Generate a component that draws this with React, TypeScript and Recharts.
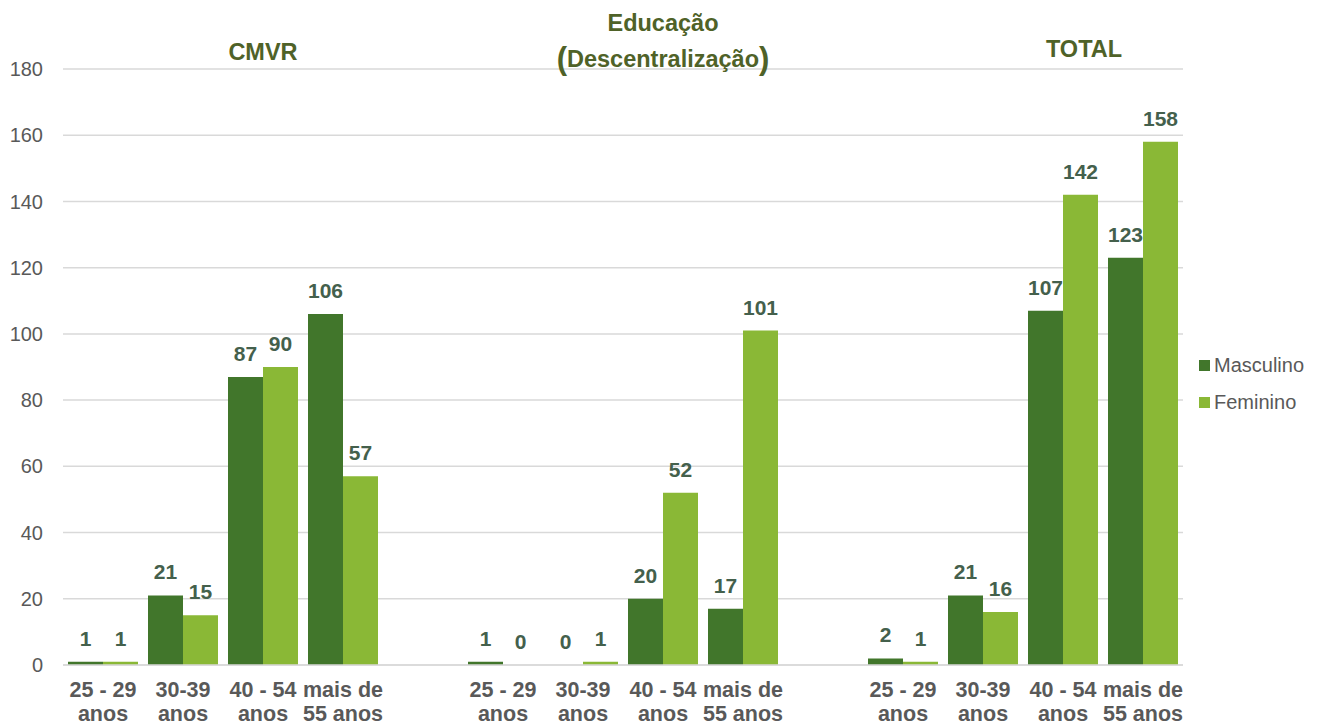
import { BarChart, Bar, XAxis, YAxis, CartesianGrid, LabelList } from 'recharts';

const ageLabels = ['25 - 29\nanos', '30-39\nanos', '40 - 54\nanos', 'mais de\n55 anos'];
const yTicks = [0, 20, 40, 60, 80, 100, 120, 140, 160, 180];

const cmvrMasculino = [1, 21, 87, 106];
const cmvrFeminino = [1, 15, 90, 57];
const educMasculino = [1, 0, 20, 17];
const educFeminino = [0, 1, 52, 101];
const totalMasculino = [2, 21, 107, 123];
const totalFeminino = [1, 16, 142, 158];

const DARK = '#41762b';
const LIGHT = '#8ab836';
const TEXT = '#595959';
const LABEL = '#44604c';
const TITLE = '#4f6228';
const FONT = '"Liberation Sans", Arial, sans-serif';

// one spacer slot between the three groups
const groupRows = (m: number[], f: number[]) =>
  ageLabels.map((name, i) => ({ name, masculino: m[i], feminino: f[i] }));
const spacer = { name: '', masculino: null, feminino: null };

const chartData = [
  ...groupRows(cmvrMasculino, cmvrFeminino),
  spacer,
  ...groupRows(educMasculino, educFeminino),
  { ...spacer },
  ...groupRows(totalMasculino, totalFeminino),
];

const AgeTick = ({ x, y, payload }: any) => {
  const lines = String(payload.value).split('\n');
  if (!payload.value) return null;
  return (
    <text x={x} y={y} textAnchor="middle" fill={TEXT} fontSize={21.5} fontWeight="bold" fontFamily={FONT}>
      {lines.map((l, i) => (
        <tspan key={i} x={x} dy={24}>{l}</tspan>
      ))}
    </text>
  );
};

const fmt = (v: any) => (v === null || v === undefined ? '' : String(v));
// keep zero bars in the label list (invisible height)
const minSize = (v: any) => (v === 0 ? 0.01 : 0);

const legendItems = [
  ['Masculino', DARK],
  ['Feminino', LIGHT],
];

const titleStyle = (cx: number, top: number) => ({
  position: 'absolute' as const,
  left: cx - 150,
  top,
  width: 300,
  textAlign: 'center' as const,
  color: TITLE,
  fontFamily: FONT,
  fontWeight: 'bold' as const,
  fontSize: 23.5,
  lineHeight: '27px',
});

const labelStyle = { fill: LABEL, fontSize: 21, fontWeight: 'bold', fontFamily: FONT };

export default function App() {
  return (
    <div style={{ position: 'absolute', left: 0, top: 0, width: 1323, height: 722, background: '#fff', overflow: 'hidden' }}>
      <BarChart
        width={1323}
        height={722}
        data={chartData}
        margin={{ top: 69, right: 140, bottom: 0, left: 0 }}
        barCategoryGap={5}
        barGap={0}
      >
        <CartesianGrid vertical={false} stroke="#d9d9d9" strokeWidth={1.5} />
        <XAxis
          dataKey="name"
          height={57}
          interval={0}
          tickLine={false}
          axisLine={{ stroke: '#d9d9d9', strokeWidth: 1.5 }}
          tick={<AgeTick />}
        />
        <YAxis
          width={63}
          domain={[0, 180]}
          ticks={yTicks}
          axisLine={false}
          tickLine={false}
          tickMargin={14}
          tick={{ fill: TEXT, fontSize: 20, fontFamily: FONT }}
        />
        <Bar dataKey="masculino" name="Masculino" fill={DARK} minPointSize={minSize} isAnimationActive={false}>
          <LabelList dataKey="masculino" position="top" offset={16} formatter={fmt} style={labelStyle} />
        </Bar>
        <Bar dataKey="feminino" name="Feminino" fill={LIGHT} minPointSize={minSize} isAnimationActive={false}>
          <LabelList dataKey="feminino" position="top" offset={16} formatter={fmt} style={labelStyle} />
        </Bar>
      </BarChart>
      <div style={{ position: 'absolute', left: 1199, top: 353, fontFamily: FONT, fontSize: 20, color: TEXT }}>
        {legendItems.map(([label, color], i) => (
          <div key={label} style={{ display: 'flex', alignItems: 'center', height: 24, marginTop: i ? 13 : 0 }}>
            <span style={{ width: 11, height: 11, background: color, marginRight: 4, display: 'inline-block' }} />
            {label}
          </div>
        ))}
      </div>
      <div style={titleStyle(263, 39)}>CMVR</div>
      <div style={{ ...titleStyle(663, 6), lineHeight: '35px' }}>
        Educação
        <br />
        <span style={{ fontSize: 31, verticalAlign: '-2px' }}>(</span>
        Descentralização
        <span style={{ fontSize: 31, verticalAlign: '-2px' }}>)</span>
      </div>
      <div style={titleStyle(1084, 36)}>TOTAL</div>
    </div>
  );
}
